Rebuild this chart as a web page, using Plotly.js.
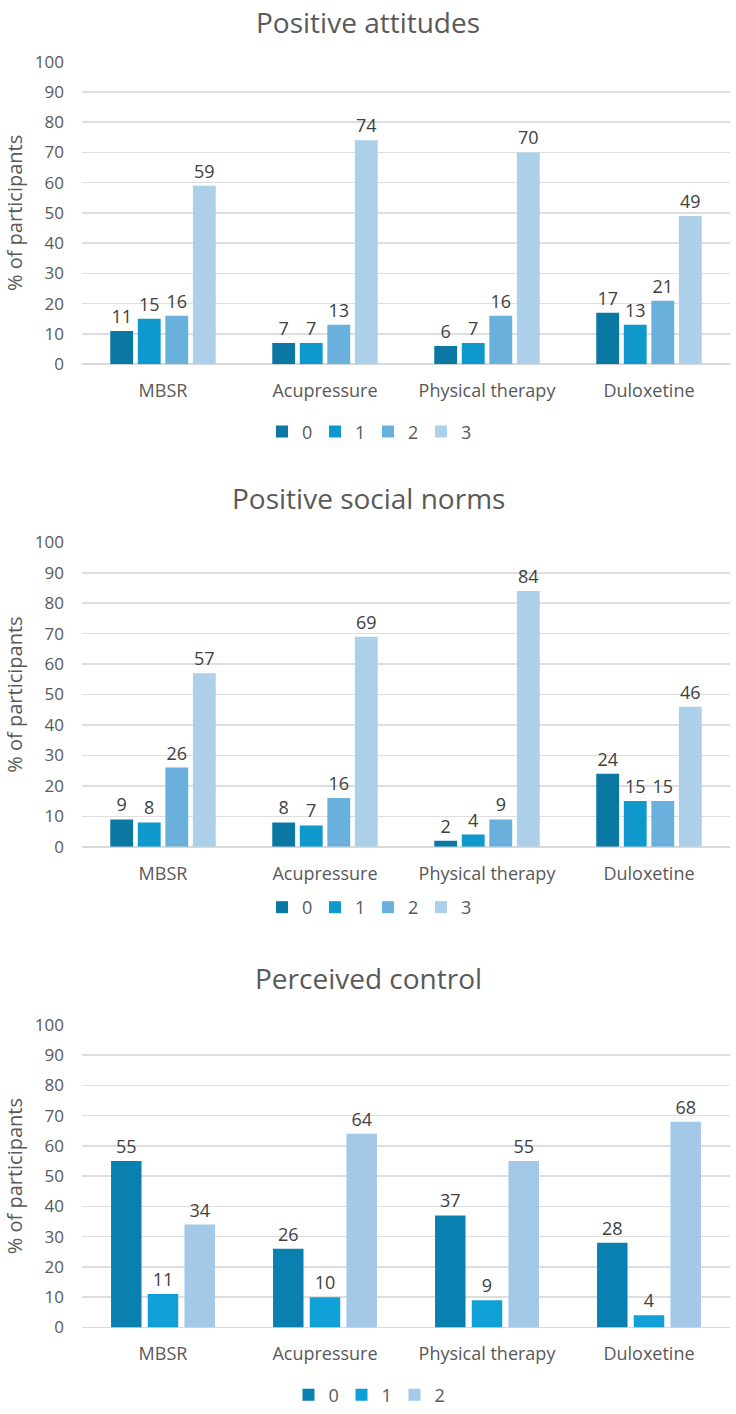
<!DOCTYPE html>
<html>
<head>
<meta charset="utf-8">
<script src="https://cdn.plot.ly/plotly-3.0.1.min.js"></script>
<style>html,body{margin:0;padding:0;background:#fff;}#chart{width:736px;height:1414px;}</style>
</head>
<body>
<div id="chart"></div>
<script>
const categories = ["MBSR", "Acupressure", "Physical therapy", "Duloxetine"];
const panelTitles = ["Positive attitudes", "Positive social norms", "Perceived control"];
const yTitle = "% of participants";

// Positive attitudes
const att0 = [11, 7, 6, 17];
const att1 = [15, 7, 7, 13];
const att2 = [16, 13, 16, 21];
const att3 = [59, 74, 70, 49];
// Positive social norms
const norm0 = [9, 8, 2, 24];
const norm1 = [8, 7, 4, 15];
const norm2 = [26, 16, 9, 15];
const norm3 = [57, 69, 84, 46];
// Perceived control
const ctrl0 = [55, 26, 37, 28];
const ctrl1 = [11, 10, 9, 4];
const ctrl2 = [34, 64, 55, 68];

const seriesNames4 = ["0", "1", "2", "3"];
const seriesNames3 = ["0", "1", "2"];

const colors4 = ["#0b78a4", "#0e98cc", "#6ab0dc", "#acd0ea"];
const colors3 = ["#0a80b0", "#10a0d8", "#a4c8e8"];

const H = 1414, W = 736;
const fy = px => (H - px) / H;
const FAM = "Open Sans, Liberation Sans, sans-serif";

const labelFont = {family: FAM, size: 18, color: "#404040"};

function mk(vals, name, color, idx, legendId) {
  const s = idx === 1 ? "" : String(idx);
  return {
    type: "bar", x: categories, y: vals, name: name,
    marker: {color: color},
    xaxis: "x" + s, yaxis: "y" + s,
    legend: legendId,
    text: vals.map(String), textposition: "outside",
    textfont: labelFont, cliponaxis: false, constraintext: "none",
    hoverinfo: "x+y+name"
  };
}

const data = [];
[att0, att1, att2, att3].forEach((v, i) => data.push(mk(v, seriesNames4[i], colors4[i], 1, "legend")));
[norm0, norm1, norm2, norm3].forEach((v, i) => data.push(mk(v, seriesNames4[i], colors4[i], 2, "legend2")));
[ctrl0, ctrl1, ctrl2].forEach((v, i) => data.push(mk(v, seriesNames3[i], colors3[i], 3, "legend3")));

const tickFont = {family: FAM, size: 17, color: "#595959"};
const catFont = {family: FAM, size: 18, color: "#595959"};
const xdom = [82 / W, 730 / W];

function yax(top, bottom, anchor) {
  return {
    domain: [fy(bottom), fy(top)], range: [0, 100], dtick: 10, tick0: 0,
    anchor: anchor, showline: false, zeroline: true, zerolinecolor: "#d9d9d9", zerolinewidth: 1.5,
    gridcolor: "#dedede", gridwidth: 1.5, tickfont: tickFont, ticks: "", ticklabelstandoff: 17,
    automargin: false, fixedrange: true,
    title: {text: yTitle, font: {family: FAM, size: 20, color: "#595959"}, standoff: 6}
  };
}
function xax(anchor) {
  return {domain: xdom, anchor: anchor, showline: false, ticks: "", tickfont: catFont,
          showgrid: false, automargin: false, fixedrange: true, ticklabelstandoff: 14};
}

const titleFont = {family: FAM, size: 28, color: "#595959"};
const legendFont = {family: FAM, size: 18, color: "#595959"};
function leg(py) {
  return {orientation: "h", x: 0.5, xanchor: "center", y: fy(py), yanchor: "middle",
          font: legendFont, entrywidth: 8, itemwidth: 30, traceorder: "normal", bgcolor: "rgba(0,0,0,0)"};
}

function ttl(text, py) {
  return {text: text, x: 0.5, y: fy(py), xref: "paper", yref: "paper", showarrow: false,
          font: titleFont, yanchor: "middle", borderpad: 0};
}

const layout = {
  width: W, height: H,
  margin: {l: 0, r: 0, t: 0, b: 0},
  paper_bgcolor: "#fff", plot_bgcolor: "#fff",
  barmode: "group", bargap: 0.32, bargroupgap: 0.17,
  xaxis: xax("y"), yaxis: yax(62, 366, "x"),
  xaxis2: xax("y2"), yaxis2: yax(545, 851, "x2"),
  xaxis3: xax("y3"), yaxis3: yax(1030, 1334, "x3"),
  legend: leg(434), legend2: leg(912), legend3: leg(1402),
  annotations: [ttl(panelTitles[0], 22), ttl(panelTitles[1], 500), ttl(panelTitles[2], 983)],
  showlegend: true
};

Plotly.newPlot("chart", data, layout, {displayModeBar: false, staticPlot: true});
</script>
</body>
</html>
